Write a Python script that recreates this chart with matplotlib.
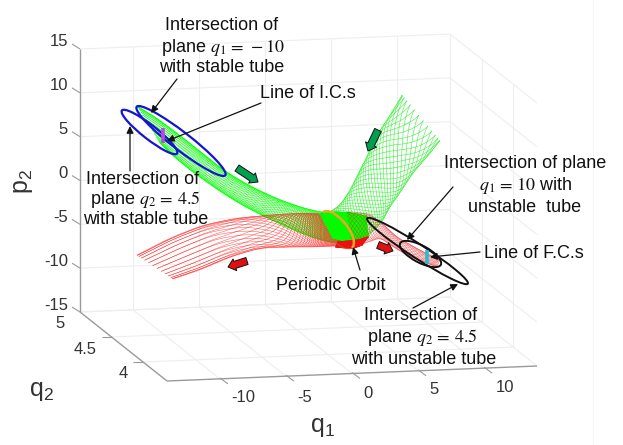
import numpy as np
import matplotlib
matplotlib.use("Agg")
import matplotlib.pyplot as plt
from matplotlib.patches import Ellipse, FancyArrowPatch, Arc

plt.rcParams['font.family'] = ['Liberation Sans', 'DejaVu Sans']
plt.rcParams['mathtext.fontset'] = 'stix'
plt.rcParams['mathtext.rm'] = 'Liberation Sans'

# ---- data (tick values of the 3-D box) ----
q1_ticks = [-10, -5, 0, 5, 10]
q2_ticks = [5, 4.5, 4]
p2_ticks = [15, 10, 5, 0, -5, -10, -15]
q1_tick_labels = ['-10', '-5', '0', '5', '10']
q2_tick_labels = ['5', '4.5', '4']
p2_tick_labels = ['15', '10', '5', '0', '-5', '-10', '-15']
q1_range = (-14, 14)
q2_range = (3.62, 5)
p2_range = (-15, 15)

# ---- tube outlines (screen position) ----
green_left_a = [(137,106),(157,118),(190,143),(223,170),(250,186),(280,200),(310,210),(335,214),(352,216)]
green_left_b = [(160,143),(172,155),(190,170),(215,188),(240,204),(267,218),(293,230),(322,241),(356,246)]
green_right_a = [(402,95),(390,115),(380,130),(370,150),(360,170),(350,190),(340,205),(328,213)]
green_right_b = [(440,141),(427,157),(413,173),(400,193),(390,207),(382,222),(372,232),(358,244)]
red_left_a = [(137,255),(170,238),(203,225),(237,218),(270,215),(300,213),(325,214),(347,222)]
red_left_b = [(173,279),(200,270),(230,257),(260,248),(293,247),(315,247),(335,246),(357,246)]
red_right_a = [(347,212),(370,214),(384,225),(397,237),(420,250),(440,260)]
red_right_b = [(352,246),(366,243),(380,238),(395,248),(410,257),(437,267)]
neck_green_a = [(320,214),(336,212),(350,213),(366,216)]
neck_green_b = [(333,238),(346,241),(356,241),(368,237)]
neck_red_a = [(338,242),(348,241),(358,240),(368,237)]
neck_red_b = [(336,247),(346,248),(354,248),(362,245)]

# cross sections: centre x, centre y, half length, half width, angle on screen
blue_sections = [(149.5,132,35,7,38),(181,141,56,9,37.7)]
black_sections = [(417.5,251,60,7,33),(420.5,254,23,8.5,28)]
orbit_ring = (337.5,230,23,10,51)
ic_line = ([163,163],[128,143])
fc_line = ([427,427],[250,264])

annotation_lines = [
    ((177,79),(151,113)), ((261,103),(167,141)), ((130,171),(130,126)),
    ((453,187),(407,240)), ((480,252),(430,257)), ((360,270),(353,247)),
    ((413,308),(458,284)),
]
green_arrows = [((237,168),(258,182)),((378,130),(368,151))]
red_arrows = [((247,261),(228,267)),((378,245),(393,251))]

W, H = 623, 445
fig = plt.figure(figsize=(W/100, H/100), dpi=100)
ax = fig.add_axes([0, 0, 1, 1])
ax.set_xlim(0, W); ax.set_ylim(H, 0); ax.axis('off')


def project(q1, q2, p2):
    a = (q1 - q1_range[0]) / (q1_range[1] - q1_range[0])
    b = (q2_range[1] - q2) / (q2_range[1] - q2_range[0])
    c = (p2 - p2_range[0]) / (p2_range[1] - p2_range[0])
    return 80 + 370*a + 87*b, 312 - 15*a + 69*b - 263*c


GRID = '#eeeeee'
AXC = '#9a9a9a'
TXT = '#333333'

def seg(p, q, color=GRID, lw=0.8, z=1):
    ax.plot([p[0], q[0]], [p[1], q[1]], color=color, lw=lw, zorder=z, solid_capstyle='butt')

qa, qb = q1_range
ra, rb = q2_range
pa, pb = p2_range
for p in p2_ticks:
    seg(project(qa, rb, p), project(qb, rb, p))
    seg(project(qb, rb, p), project(qb, ra, p))
for q in q1_ticks:
    seg(project(q, rb, pa), project(q, rb, pb))
    seg(project(q, rb, pa), project(q, ra, pa))
for r in q2_ticks:
    seg(project(qb, r, pa), project(qb, r, pb))
    seg(project(qa, r, pa), project(qb, r, pa))
seg(project(qb, rb, pa), project(qb, rb, pb))
ax.plot([593, 593], [0, 445], color='#f4f4f4', lw=0.8, zorder=0)

seg(project(qa, rb, pa), project(qa, rb, pb), AXC, 1.0, 2)
seg(project(qa, rb, pa), project(qa, ra, pa), AXC, 1.0, 2)
seg(project(qa, ra, pa), project(qb, ra, pa), AXC, 1.0, 2)

for p in p2_ticks:
    x, y = project(qa, rb, p)
    seg((x-8, y-5), (x, y), AXC, 0.8, 2)
for q in q1_ticks:
    x, y = project(q, ra, pa)
    seg((x, y-1), (x+8, y+5), AXC, 0.8, 2)
for r in q2_ticks[1:]:
    x, y = project(qa, r, pa)
    seg((x-10, y), (x, y), AXC, 0.8, 2)

p2_y = [42, 86, 130, 174, 218, 262, 305]
for t, y in zip(p2_tick_labels, p2_y):
    ax.text(68, y, t, ha='right', va='center', fontsize=12, color=TXT)
for t, (x, y) in zip(q1_tick_labels, [(243,398),(305,397),(368,394),(434,390),(505,387)]):
    ax.text(x, y, t, ha='center', va='center', fontsize=12, color=TXT)
for t, (x, y) in zip(q2_tick_labels, [(60,323),(85,349),(123,373)]):
    ax.text(x, y, t, ha='center', va='center', fontsize=12, color=TXT)

lab = dict(ha='center', va='center', fontsize=18, color=TXT, math_fontfamily='custom')
ax.text(23, 181, r'p$_{2}$', rotation=90, **lab)
ax.text(42, 391, r'q$_{2}$', **lab)
ax.text(323, 427, r'q$_{1}$', **lab)


def tube(edge_a, edge_b, color, n, twist, power, lw, alpha, z):
    a = np.asarray(edge_a, float); b = np.asarray(edge_b, float)
    s0 = np.linspace(0, 1, len(a)); s = np.linspace(0, 1, 240)
    kern = np.ones(25)/25
    def res(e):
        out = []
        for i in range(2):
            v = np.interp(s, s0, e[:, i])
            pad = np.r_[2*v[0]-v[12:0:-1], v, 2*v[-1]-v[-2:-14:-1]]
            out.append(np.convolve(pad, kern, mode='valid'))
        return np.array(out)
    A, B = res(a), res(b)
    for j in range(n):
        ang = 2*np.pi*j/n + twist*s**power
        f = 0.5 + 0.5*np.cos(ang)
        P = A*f + B*(1-f)
        ax.plot(P[0], P[1], color=color, lw=lw, alpha=alpha, zorder=z)


tube(green_left_a, green_left_b, '#00ff00', 30, 14, 4.5, 0.4, 0.85, 3)
tube(red_left_a, red_left_b, '#ff2020', 26, 14, 5.0, 0.35, 0.8, 4)
tube(green_right_a, green_right_b, '#22ee22', 26, 6, 1.5, 0.38, 0.9, 4)
tube(neck_green_a, neck_green_b, '#00ff00', 50, 3, 1, 0.8, 1.0, 5)
tube(red_right_a, red_right_b, '#e81010', 18, 9, 1.0, 0.3, 0.6, 5)
tube(neck_red_a, neck_red_b, '#ee1010', 24, 3, 1, 0.8, 0.9, 6)

for cx, cy, a, b, ang in blue_sections:
    ax.add_patch(Ellipse((cx, cy), 2*a, 2*b, angle=ang, fill=False, ec='#1414d2', lw=1.6, zorder=7))
for cx, cy, a, b, ang in black_sections:
    ax.add_patch(Ellipse((cx, cy), 2*a, 2*b, angle=ang, fill=False, ec='#111111', lw=1.4, zorder=7))
cx, cy, a, b, ang = orbit_ring
ax.add_patch(Ellipse((cx, cy), 2*a, 2*b, angle=ang, fill=False, ec='#b08030', lw=1.0, alpha=0.4, zorder=7))
ax.add_patch(Arc((cx, cy), 2*a, 2*b, angle=ang, theta1=180, theta2=360, ec='#f0a428', lw=1.8, zorder=8))

ax.plot(*ic_line, color='#b84ae0', lw=2.6, zorder=8, solid_capstyle='butt')
ax.plot(*fc_line, color='#22c0d0', lw=2.6, zorder=8, solid_capstyle='butt')

for p, q in annotation_lines:
    ax.add_patch(FancyArrowPatch(p, q, arrowstyle='-|>,head_length=3.2,head_width=1.6', color='#111111',
                                 lw=0.9, shrinkA=0, shrinkB=0, zorder=9, mutation_scale=1.3))
style = 'simple,head_length=2.6,head_width=4.4,tail_width=2.6'
for p, q in green_arrows:
    ax.add_patch(FancyArrowPatch(p, q, arrowstyle=style, fc='#00a050', ec='#111111', lw=0.7,
                                 shrinkA=0, shrinkB=0, zorder=9, mutation_scale=2.0))
for p, q in red_arrows:
    ax.add_patch(FancyArrowPatch(p, q, arrowstyle=style, fc='#e01010', ec='#111111', lw=0.7,
                                 shrinkA=0, shrinkB=0, zorder=9, mutation_scale=2.0))

def T(x, y, s, ha='center'):
    ax.text(x, y, s, ha=ha, va='center', fontsize=13, color='#111111', zorder=10)

T(222, 25, 'Intersection of'); T(223, 47, r'plane $q_1\,=\,-10$'); T(222, 68, 'with stable tube')
T(260, 93, 'Line of I.C.s', ha='left')
T(143, 179, 'Intersection of'); T(145, 200, r'plane $q_2\,=\,4.5$'); T(146, 220, 'with stable tube')
T(525, 163, 'Intersection of plane'); T(526, 186, r'$q_1\,=\,10$ with'); T(525, 207, 'unstable  tube')
T(484, 253, 'Line of F.C.s', ha='left')
T(331, 285, 'Periodic Orbit')
T(421, 315, 'Intersection of'); T(422, 337, r'plane $q_2\,=\,4.5$'); T(424, 359, 'with unstable tube')

fig.savefig('out.png', dpi=100)
